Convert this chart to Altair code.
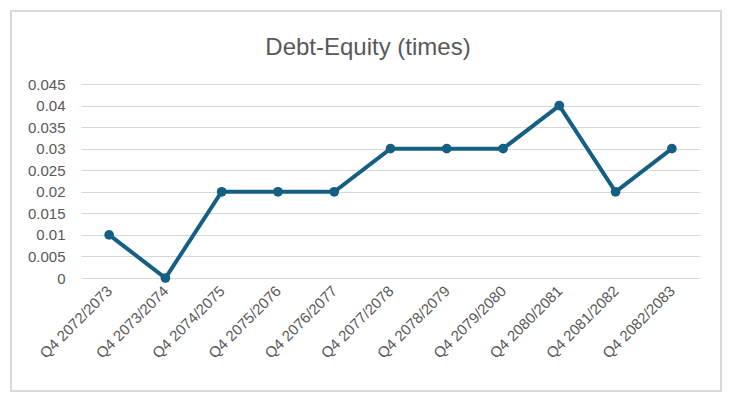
import altair as alt
import pandas as pd

quarters = ["Q4 2072/2073", "Q4 2073/2074", "Q4 2074/2075", "Q4 2075/2076",
            "Q4 2076/2077", "Q4 2077/2078", "Q4 2078/2079", "Q4 2079/2080",
            "Q4 2080/2081", "Q4 2081/2082", "Q4 2082/2083"]
debt_equity = [0.01, 0.0, 0.02, 0.02, 0.02, 0.03, 0.03, 0.03, 0.04, 0.02, 0.03]
chart_title = "Debt-Equity (times)"

df = pd.DataFrame({"quarter": quarters, "ratio": debt_equity})

text_color = "#595959"
line_color = "#156082"
font = "Liberation Sans"

base = alt.Chart(df).encode(
    x=alt.X("quarter:N", sort=quarters, title=None,
            scale=alt.Scale(paddingInner=1, paddingOuter=0.5),
            axis=alt.Axis(labelAngle=-45, labelAlign="right", labelBaseline="middle",
                          labelPadding=10, ticks=False, domain=False, grid=False,
                          labelFontSize=15, labelColor=text_color, labelFont=font)),
    y=alt.Y("ratio:Q", title=None,
            scale=alt.Scale(domain=[0, 0.045], nice=False),
            axis=alt.Axis(values=[i * 0.005 for i in range(10)], format="~g",
                          ticks=False, domain=False, grid=True, gridColor="#d9d9d9",
                          gridWidth=1, labelPadding=16, labelFontSize=15,
                          labelColor=text_color, labelFont=font)),
)

line = base.mark_line(color=line_color, strokeWidth=4)
points = base.mark_point(filled=True, opacity=1, color=line_color, size=95)

frame = alt.Chart(df).mark_rect(fill=None, stroke="#d9d9d9", strokeWidth=1.2, clip=False).encode(
    x=alt.value(-70), x2=alt.value(640), y=alt.value(-73), y2=alt.value(307)
)

title = alt.Chart(pd.DataFrame({"t": [chart_title]})).mark_text(
    fontSize=24, font=font, color=text_color, align="center", baseline="alphabetic", clip=False
).encode(text="t:N", x=alt.value(287), y=alt.value(-29))

chart = alt.layer(frame, line, points, title).properties(
    width=619,
    height=194,
    padding={"left": 73, "top": 76, "right": 22, "bottom": 114},
    autosize=alt.AutoSizeParams(type="none"),
).configure_view(stroke=None)

chart.save("out.html", embed_options={"renderer": "svg", "actions": False})
